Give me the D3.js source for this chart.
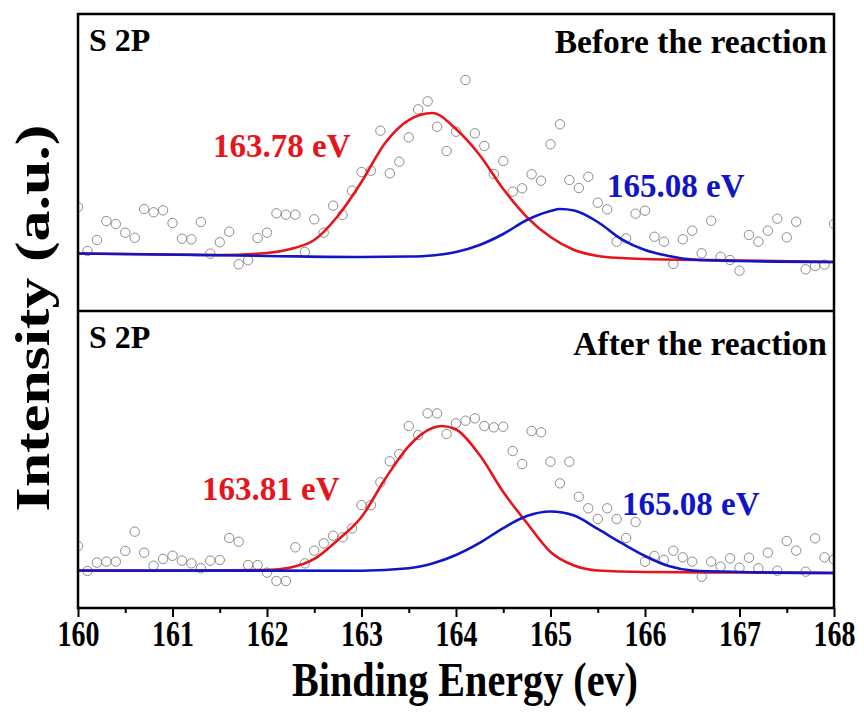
<!DOCTYPE html>
<html>
<head>
<meta charset="utf-8">
<script src="https://cdn.jsdelivr.net/npm/d3@7"></script>
<style>
  body { margin: 0; background: #fff; }
  text { font-family: "Liberation Serif", "Times New Roman", serif; font-weight: bold; }
</style>
</head>
<body>
<div id="chart"></div>
<script>
// XPS S 2p spectra, before / after the reaction
var energy = [160.0, 160.1, 160.2, 160.3, 160.4, 160.5, 160.6, 160.7, 160.8, 160.9,
  161.0, 161.1, 161.2, 161.3, 161.4, 161.5, 161.6, 161.7, 161.8, 161.9,
  162.0, 162.1, 162.2, 162.3, 162.4, 162.5, 162.6, 162.7, 162.8, 162.9,
  163.0, 163.1, 163.2, 163.3, 163.4, 163.5, 163.6, 163.7, 163.8, 163.9,
  164.0, 164.1, 164.2, 164.3, 164.4, 164.5, 164.6, 164.7, 164.8, 164.9,
  165.0, 165.1, 165.2, 165.3, 165.4, 165.5, 165.6, 165.7, 165.8, 165.9,
  166.0, 166.1, 166.2, 166.3, 166.4, 166.5, 166.6, 166.7, 166.8, 166.9,
  167.0, 167.1, 167.2, 167.3, 167.4, 167.5, 167.6, 167.7, 167.8, 167.9, 168.0];

var beforeCounts = [1050, 606, 717, 909, 879, 791, 740, 1030, 997, 1017,
  889, 730, 724, 899, 579, 694, 801, 472, 512, 737,
  791, 987, 973, 973, 596, 926, 791, 1064, 970, 1215,
  1404, 1417, 1821, 1391, 1508, 1754, 2037, 2118, 1861, 1616,
  1811, 2333, 1795, 1667, 1384, 1515, 1205, 1239, 1381, 1316,
  1684, 1886, 1323, 1242, 1356, 1094, 1027, 700, 734, 983,
  1013, 750, 700, 475, 724, 811, 583, 912, 548, 515,
  407, 768, 700, 811, 932, 744, 902, 421, 455, 468, 879];

var afterCounts = [626, 374, 458, 468, 468, 576, 771, 559, 427, 495,
  528, 478, 451, 401, 478, 485, 707, 670, 434, 434,
  357, 273, 273, 613, 451, 579, 653, 730, 714, 803,
  1040, 1040, 1270, 1482, 1555, 1838, 1747, 1966, 1966, 1757,
  1865, 1892, 1916, 1838, 1825, 1831, 1586, 1454, 1788, 1775,
  1478, 1259, 1478, 1124, 1007, 899, 1007, 899, 707, 869,
  468, 525, 485, 579, 512, 468, 316, 468, 417, 502,
  407, 508, 401, 559, 377, 677, 579, 367, 704, 512, 492];

// fitted components
var beforeRedX = [160, 161, 161.5, 162, 162.25, 162.5, 162.75, 163, 163.25, 163.5, 163.75, 164, 164.25, 164.5, 164.75, 165, 165.25, 165.5, 165.75, 166, 167, 168];
var beforeRedY = [581, 571, 566, 586, 626, 717, 960, 1303, 1697, 1929, 2000, 1838, 1576, 1232, 949, 747, 616, 556, 535, 525, 510, 495];
var beforeBlueX = [160, 162, 163, 163.5, 163.75, 164, 164.25, 164.5, 164.75, 165, 165.1, 165.25, 165.5, 165.75, 166, 166.25, 166.5, 167, 168];
var beforeBlueY = [581, 556, 545, 550, 561, 596, 667, 778, 919, 1010, 1030, 1015, 899, 727, 616, 556, 520, 505, 495];

var afterRedX = [160, 161, 162, 162.25, 162.5, 162.75, 163, 163.25, 163.5, 163.75, 163.85, 164, 164.25, 164.5, 164.75, 165, 165.25, 165.5, 166, 167, 168];
var afterRedY = [377, 376, 384, 409, 495, 687, 919, 1303, 1636, 1818, 1838, 1803, 1545, 1172, 859, 566, 429, 379, 364, 359, 354];
var afterBlueX = [160, 163, 163.5, 163.75, 164, 164.25, 164.5, 164.75, 165, 165.25, 165.5, 165.75, 166, 166.25, 166.5, 167, 168];
var afterBlueY = [379, 377, 401, 449, 535, 657, 808, 929, 975, 934, 798, 657, 525, 424, 379, 364, 354];

var panelTitles = ["Before the reaction", "After the reaction"];
var peakNames = [["163.78 eV", "165.08 eV"], ["163.81 eV", "165.08 eV"]];
var xTicks = [160, 161, 162, 163, 164, 165, 166, 167, 168];
var xMinorTicks = [160.5, 161.5, 162.5, 163.5, 164.5, 165.5, 166.5, 167.5];

var svgWidth = 864;
var svgHeight = 715;
var margin = {top: 14, right: 30, bottom: 107, left: 78};
var width = svgWidth - margin.left - margin.right;
var height = svgHeight - margin.top - margin.bottom;
var panelHeight = height / 2;

var red = "#e8141c";
var blue = "#1016c8";

var svg = d3.select("#chart")
  .append("svg")
  .attr("width", svgWidth)
  .attr("height", svgHeight);

var chartGroup = svg.append("g")
  .attr("transform", `translate(${margin.left}, ${margin.top})`);

var xScale = d3.scaleLinear().domain([160, 168]).range([0, width]);

function zip(xs, ys) {
  return xs.map(function(x, i) { return {x: x, y: ys[i]}; });
}

var panels = [
  {counts: beforeCounts, fits: [zip(beforeRedX, beforeRedY), zip(beforeBlueX, beforeBlueY)],
   labelPos: [[213, 157], [607, 197]]},
  {counts: afterCounts, fits: [zip(afterRedX, afterRedY), zip(afterBlueX, afterBlueY)],
   labelPos: [[202, 500], [622, 515]]}
];

panels.forEach(function(p, i) {
  var top = i * panelHeight;
  var yScale = d3.scaleLinear().domain([0, 3000]).range([top + panelHeight, top]);

  svg.append("clipPath").attr("id", "clip" + i)
    .append("rect")
    .attr("x", 0).attr("y", top)
    .attr("width", width).attr("height", panelHeight);

  var g = chartGroup.append("g").attr("clip-path", `url(#clip${i})`);

  // raw data as open circles
  g.selectAll("circle")
    .data(energy.map(function(e, k) { return {x: e, y: p.counts[k]}; }))
    .enter()
    .append("circle")
    .attr("cx", d => xScale(d.x))
    .attr("cy", d => yScale(d.y))
    .attr("r", 4.7)
    .attr("fill", "none")
    .attr("stroke", "#8c8c8c")
    .attr("stroke-width", 1);

  var line = d3.line()
    .x(d => xScale(d.x))
    .y(d => yScale(d.y))
    .curve(d3.curveMonotoneX);

  p.fits.forEach(function(fit, j) {
    g.append("path")
      .datum(fit)
      .attr("fill", "none")
      .attr("stroke", j === 0 ? red : blue)
      .attr("stroke-width", 2.6)
      .attr("d", line);
  });

  // panel texts
  svg.append("text")
    .attr("x", 89)
    .attr("y", i === 0 ? 51 : 348)
    .attr("font-size", 32)
    .text("S 2P");

  svg.append("text")
    .attr("x", 827)
    .attr("y", i === 0 ? 53 : 355)
    .attr("font-size", 33.5)
    .attr("text-anchor", "end")
    .text(panelTitles[i]);

  peakNames[i].forEach(function(name, j) {
    svg.append("text")
      .attr("x", p.labelPos[j][0])
      .attr("y", p.labelPos[j][1])
      .attr("font-size", 33)
      .attr("fill", j === 0 ? red : blue)
      .text(name);
  });
});

// frame and divider
chartGroup.append("rect")
  .attr("width", width).attr("height", height)
  .attr("fill", "none")
  .attr("stroke", "#000")
  .attr("stroke-width", 2.5);

chartGroup.append("line")
  .attr("x1", 0).attr("x2", width)
  .attr("y1", panelHeight).attr("y2", panelHeight)
  .attr("stroke", "#000")
  .attr("stroke-width", 2.5);

// bottom axis: major + minor ticks
var majorAxis = d3.axisBottom(xScale).tickValues(xTicks).tickSize(9).tickFormat(d3.format("d"));
var minorAxis = d3.axisBottom(xScale).tickValues(xMinorTicks).tickSize(5).tickFormat("");

var axG = chartGroup.append("g").attr("transform", `translate(0, ${height})`).call(majorAxis);
chartGroup.append("g").attr("transform", `translate(0, ${height})`).call(minorAxis);

chartGroup.selectAll(".domain").remove();
chartGroup.selectAll(".tick line").attr("stroke", "#000").attr("stroke-width", 2);

// tick labels are condensed in the original
axG.selectAll(".tick text")
  .attr("fill", "#000")
  .attr("y", 38)
  .attr("dy", 0)
  .attr("font-size", 35)
  .attr("font-family", "Liberation Serif, serif")
  .attr("font-weight", "bold")
  .attr("transform", "scale(0.8, 1)");

// axis titles
svg.append("text")
  .attr("transform", "translate(465, 696) scale(0.82, 1)")
  .attr("text-anchor", "middle")
  .attr("font-size", 49)
  .text("Binding Energy (ev)");

svg.append("text")
  .attr("transform", "translate(49, 318) rotate(-90) scale(1.29, 1)")
  .attr("text-anchor", "middle")
  .attr("font-size", 48)
  .text("Intensity (a.u.)");
</script>
</body>
</html>
